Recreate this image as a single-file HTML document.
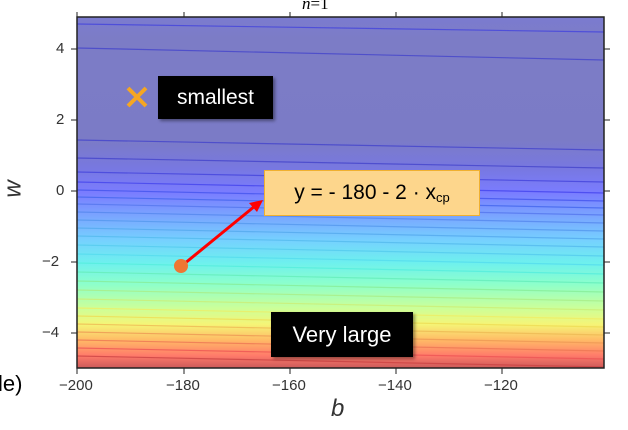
<!DOCTYPE html>
<html><head><style>
body{margin:0;width:628px;height:430px;background:#fff;overflow:hidden;font-family:"Liberation Sans",sans-serif;}
.lbl{position:absolute;font-size:15px;color:#333;}
.box{position:absolute;background:#000;color:#fff;font-family:"Liberation Sans",sans-serif;display:flex;align-items:center;justify-content:center;box-shadow:2px 2px 3px rgba(0,0,0,.4);}
</style></head><body>
<svg width="628" height="430" style="position:absolute;left:0;top:0">
<defs>
<linearGradient id="g" x1="0" y1="17" x2="0" y2="368" gradientUnits="userSpaceOnUse">
<stop offset="0" stop-color="#7b7bd0"/>
<stop offset="0.06" stop-color="#7c7cc6"/>
<stop offset="0.35" stop-color="#7b7bc6"/>
<stop offset="0.43" stop-color="#7878e0"/>
<stop offset="0.50" stop-color="#7a7cff"/>
<stop offset="0.565" stop-color="#7aa4ff"/>
<stop offset="0.635" stop-color="#76d0ff"/>
<stop offset="0.70" stop-color="#6ef0ee"/>
<stop offset="0.76" stop-color="#8cffcc"/>
<stop offset="0.83" stop-color="#ccff99"/>
<stop offset="0.875" stop-color="#f5f577"/>
<stop offset="0.92" stop-color="#ffbb66"/>
<stop offset="0.965" stop-color="#ff7a6a"/>
<stop offset="1" stop-color="#cc5a5a"/>
</linearGradient>
</defs>
<rect x="77" y="17" width="527" height="351" fill="url(#g)"/>
<g stroke-width="1.2" opacity="0.8">
<line x1="77" y1="24" x2="604" y2="32" stroke="#4444dd"/>
<line x1="77" y1="48" x2="604" y2="60" stroke="#4444cc"/>
<line x1="77" y1="140" x2="604" y2="150" stroke="#4444cc"/>
<line x1="77" y1="158" x2="604" y2="168" stroke="#4444cc"/>
<line x1="77" y1="172" x2="604" y2="182" stroke="#4444dd"/>
<line x1="77" y1="182" x2="604" y2="193" stroke="#4444ee"/>
<line x1="77" y1="190" x2="604" y2="201" stroke="#4455ee"/>
<line x1="77" y1="197" x2="604" y2="208" stroke="#4466ee"/>
<line x1="77" y1="204" x2="604" y2="215" stroke="#5577ee"/>
<line x1="77" y1="212" x2="604" y2="223" stroke="#5588ee"/>
<line x1="77" y1="220" x2="604" y2="231" stroke="#5599ee"/>
<line x1="77" y1="228" x2="604" y2="239" stroke="#55aaee"/>
<line x1="77" y1="236" x2="604" y2="247" stroke="#55bbee"/>
<line x1="77" y1="245" x2="604" y2="256" stroke="#55ccee"/>
<line x1="77" y1="254" x2="604" y2="265" stroke="#55ddee"/>
<line x1="77" y1="263" x2="604" y2="274" stroke="#55eedd"/>
<line x1="77" y1="272" x2="604" y2="283" stroke="#66eebb"/>
<line x1="77" y1="281" x2="604" y2="292" stroke="#88ee99"/>
<line x1="77" y1="290" x2="604" y2="301" stroke="#aaee88"/>
<line x1="77" y1="299" x2="604" y2="310" stroke="#ccee77"/>
<line x1="77" y1="308" x2="604" y2="319" stroke="#eeee66"/>
<line x1="77" y1="316" x2="604" y2="327" stroke="#eedd55"/>
<line x1="77" y1="324" x2="604" y2="335" stroke="#eebb55"/>
<line x1="77" y1="332" x2="604" y2="343" stroke="#ee9955"/>
<line x1="77" y1="340" x2="604" y2="351" stroke="#ee7755"/>
<line x1="77" y1="348" x2="604" y2="359" stroke="#ee5555"/>
<line x1="77" y1="356" x2="604" y2="367" stroke="#cc4444"/>
</g>
<rect x="77" y="17" width="527" height="351" fill="none" stroke="#222" stroke-width="1.5"/>
<g stroke="#222" stroke-width="1">
<line x1="77" y1="368" x2="77" y2="374"/><line x1="184" y1="368" x2="184" y2="374"/><line x1="290" y1="368" x2="290" y2="374"/><line x1="396" y1="368" x2="396" y2="374"/><line x1="502" y1="368" x2="502" y2="374"/>
<line x1="77" y1="17" x2="77" y2="12"/><line x1="184" y1="17" x2="184" y2="12"/><line x1="290" y1="17" x2="290" y2="12"/><line x1="396" y1="17" x2="396" y2="12"/><line x1="502" y1="17" x2="502" y2="12"/>
<line x1="71" y1="49" x2="77" y2="49"/><line x1="71" y1="120" x2="77" y2="120"/><line x1="71" y1="191" x2="77" y2="191"/><line x1="71" y1="262" x2="77" y2="262"/><line x1="71" y1="333" x2="77" y2="333"/>
<line x1="604" y1="49" x2="610" y2="49"/><line x1="604" y1="120" x2="610" y2="120"/><line x1="604" y1="191" x2="610" y2="191"/><line x1="604" y1="262" x2="610" y2="262"/><line x1="604" y1="333" x2="610" y2="333"/>
</g>
<line x1="184" y1="264" x2="255" y2="206" stroke="#ff0000" stroke-width="3"/>
<polygon points="263,200 249,203 257,212" fill="#ff0000"/>
<circle cx="181" cy="266" r="7" fill="#ee7733"/>
<g stroke="#f5a623" stroke-width="4"><line x1="128" y1="88" x2="146" y2="106"/><line x1="146" y1="88" x2="128" y2="106"/></g>
</svg>
<div class="lbl" style="left:302px;top:-6px;font-family:'Liberation Serif',serif;font-size:17px;color:#000"><i>n</i>=1</div>
<div class="lbl" style="left:56px;top:40px">4</div>
<div class="lbl" style="left:56px;top:111px">2</div>
<div class="lbl" style="left:56px;top:182px">0</div>
<div class="lbl" style="left:42px;top:253px">−2</div>
<div class="lbl" style="left:42px;top:324px">−4</div>
<div class="lbl" style="left:59px;top:377px">−200</div>
<div class="lbl" style="left:166px;top:377px">−180</div>
<div class="lbl" style="left:272px;top:377px">−160</div>
<div class="lbl" style="left:378px;top:377px">−140</div>
<div class="lbl" style="left:484px;top:377px">−120</div>
<div class="lbl" style="left:331px;top:395px;font-size:24px;font-style:italic">b</div>
<div class="lbl" style="left:5px;top:175px;font-size:24px;font-style:italic;transform:rotate(-90deg)">w</div>
<div class="lbl" style="left:-2px;top:371px;font-size:22px;color:#000">le)</div>
<div class="box" style="left:158px;top:76px;width:115px;height:43px;font-size:21px">smallest</div>
<div class="box" style="left:271px;top:312px;width:142px;height:45px;font-size:22px">Very large</div>
<div class="box" style="left:264px;top:170px;width:214px;height:44px;background:#fdd68c;border:1px solid #f0b030;color:#000;box-shadow:none;font-size:21px">y = - 180 - 2 · x<sub style="font-size:13px;position:relative;top:4px">cp</sub></div>
</body></html>
